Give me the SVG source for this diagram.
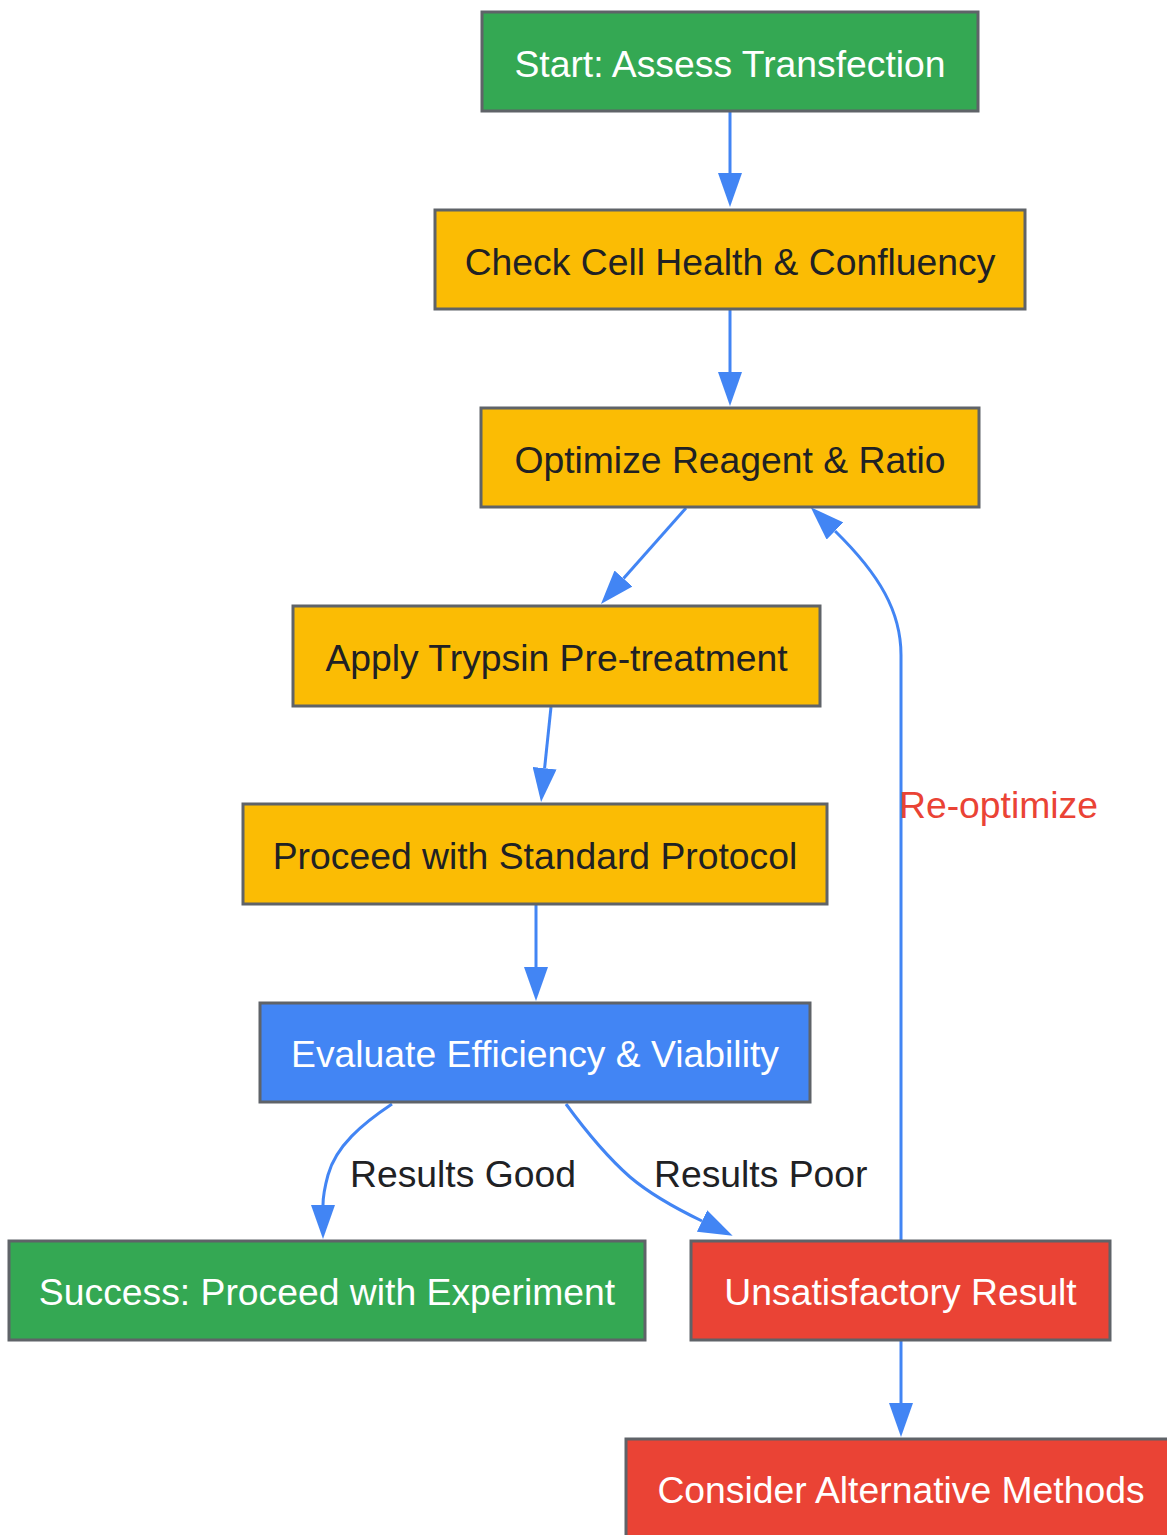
<svg xmlns="http://www.w3.org/2000/svg" width="1167" height="1535" viewBox="0 0 1167 1535">
<style>
.box{stroke:#5f6368;stroke-width:3}
.green{fill:#34a853}.yellow{fill:#fbbc04}.blue{fill:#4285f4}.red{fill:#ea4335}
text{font-family:"Liberation Sans",Arial,sans-serif;font-size:37.3px;text-anchor:middle}
.lt{fill:#ffffff}.dk{fill:#202124}
.edge{fill:none;stroke:#4285f4;stroke-width:3}
.lbl{fill:#202124;text-anchor:start}
.lblr{fill:#ea4335;text-anchor:start}
</style>
<defs>
<marker id="arr" viewBox="0 0 34 24" refX="0" refY="12" markerWidth="34" markerHeight="24" markerUnits="userSpaceOnUse" orient="auto">
<path d="M0,0 L34,12 L0,24 z" fill="#4285f4"/>
</marker>
</defs>
<rect width="1167" height="1535" fill="#ffffff"/>
<g id="connectors">
<path class="edge" marker-end="url(#arr)" d="M730,111 L730,173"/>
<path class="edge" marker-end="url(#arr)" d="M730,309 L730,372"/>
<path class="edge" marker-end="url(#arr)" d="M686,508 L623.5,578.5"/>
<path class="edge" marker-end="url(#arr)" d="M551,707 L544.6,768.2"/>
<path class="edge" marker-end="url(#arr)" d="M536,904 L536,967"/>
<path class="edge" marker-end="url(#arr)" d="M392,1104 C362,1124 336,1146 328,1175 C325,1186 323,1196 323,1205"/>
<path class="edge" marker-end="url(#arr)" d="M566,1104 C585,1130 605,1155 630,1177 C650,1194 675,1208 702,1221"/>
<path class="edge" marker-end="url(#arr)" d="M901,1240 L901,655 C901,612 880,575 835,531"/>
<path class="edge" marker-end="url(#arr)" d="M901,1340 L901,1403"/>
<text class="lbl" x="350" y="1187">Results Good</text>
<text class="lbl" x="654" y="1187">Results Poor</text>
<text class="lblr" x="899" y="818">Re-optimize</text>
</g>
<g id="start"><rect class="box green" x="482" y="12" width="496" height="99"/><text class="lt" x="730" y="77">Start: Assess Transfection</text></g>
<g id="check"><rect class="box yellow" x="435" y="210" width="590" height="99"/><text class="dk" x="730" y="275">Check Cell Health &amp; Confluency</text></g>
<g id="optimize"><rect class="box yellow" x="481" y="408" width="498" height="99"/><text class="dk" x="730" y="473">Optimize Reagent &amp; Ratio</text></g>
<g id="trypsin"><rect class="box yellow" x="293" y="606" width="527" height="100"/><text class="dk" x="556.5" y="671">Apply Trypsin Pre-treatment</text></g>
<g id="proceed"><rect class="box yellow" x="243" y="804" width="584" height="100"/><text class="dk" x="535" y="869">Proceed with Standard Protocol</text></g>
<g id="evaluate"><rect class="box blue" x="260" y="1003" width="550" height="99"/><text class="lt" x="535" y="1067">Evaluate Efficiency &amp; Viability</text></g>
<g id="success"><rect class="box green" x="9" y="1241" width="636" height="99"/><text class="lt" x="327" y="1305">Success: Proceed with Experiment</text></g>
<g id="unsatisfactory"><rect class="box red" x="691" y="1241" width="419" height="99"/><text class="lt" x="900.5" y="1305">Unsatisfactory Result</text></g>
<g id="alternative"><rect class="box red" x="626" y="1439" width="550" height="99"/><text class="lt" x="901" y="1503">Consider Alternative Methods</text></g>
</svg>
